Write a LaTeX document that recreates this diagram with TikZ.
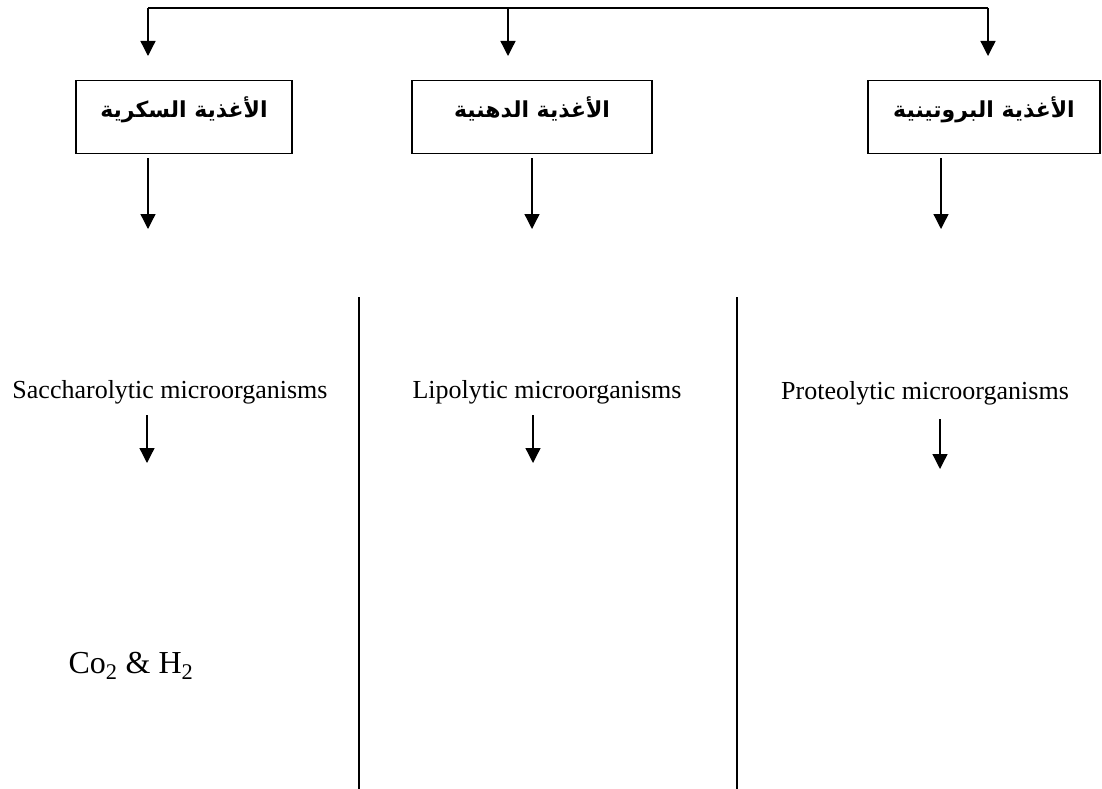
\documentclass[tikz,border=0pt]{standalone}
\usepackage{fontspec}
\setmainfont{Liberation Serif}
\newfontfamily\arabicfont[Script=Arabic]{DejaVu Sans}
\TeXXeTstate=1
\usetikzlibrary{arrows, arrows.meta}
\usetikzlibrary{calc}

\begin{document}
\begin{tikzpicture}[x=1pt, y=-1pt,
  arr/.style={-{Triangle[length=15pt, width=15pt]}, line width=1.3pt},
  food/.style={draw, line width=1.4pt, anchor=north, inner xsep=0pt, inner ysep=0pt,
    text height=37pt, text depth=36pt, font=\arabicfont\bfseries\fontsize{22}{26}\selectfont},
  microbe/.style={font=\fontsize{26}{30}\selectfont},
  split/.style={line width=2.6pt}]
  \useasboundingbox (0,0) rectangle (1102,789);

  \node[food, minimum width=216pt] (sugar) at (184,80) {\beginR الأغذية السكرية\endR};
  \node[food, minimum width=240pt] (fat) at (532,80) {\beginR الأغذية الدهنية\endR};
  \node[food, minimum width=232pt] (protein) at (984,80) {\beginR الأغذية البروتينية\endR};

  \coordinate (t1) at (148,8);
  \coordinate (t2) at (508,8);
  \coordinate (t3) at (988,8);
  \coordinate (a1) at (148,56);
  \coordinate (a2) at (508,56);
  \coordinate (a3) at (988,56);

  \draw[line width=1.3pt] (t1) -- (t3);
  \draw[arr] (t1) -- (a1);
  \draw[arr] (t2) -- (a2);
  \draw[arr] (t3) -- (a3);

  \coordinate (b1) at (148,229);
  \coordinate (b2) at (532,229);
  \coordinate (b3) at (941,229);

  \draw[arr, shorten <=4pt] (sugar.south -| b1) -- (b1);
  \draw[arr, shorten <=4pt] (fat.south -| b2) -- (b2);
  \draw[arr, shorten <=4pt] (protein.south -| b3) -- (b3);

  \node[microbe] (sac) at (170,392) {Saccharolytic microorganisms};
  \node[microbe] (lip) at (547,392) {Lipolytic microorganisms};
  \node[microbe] (pro) at (925,393) {Proteolytic microorganisms};

  \coordinate (c1) at (147,463);
  \coordinate (c2) at (533,463);
  \coordinate (c3) at (940,469);

  \draw[arr, shorten <=8pt] (sac.south -| c1) -- (c1);
  \draw[arr, shorten <=8pt] (lip.south -| c2) -- (c2);
  \draw[arr, shorten <=11pt] (pro.south -| c3) -- (c3);

  \node[font=\fontsize{32}{36}\selectfont] (gas) at (131,666) {Co\textsubscript{2} \& H\textsubscript{2}};

  \coordinate (d1) at (359,297);
  \coordinate (e1) at (359,789);
  \coordinate (d2) at (737,297);
  \coordinate (e2) at (737,789);
  \draw[split] (d1) -- (e1);
  \draw[split] (d2) -- (e2);
\end{tikzpicture}
\end{document}
